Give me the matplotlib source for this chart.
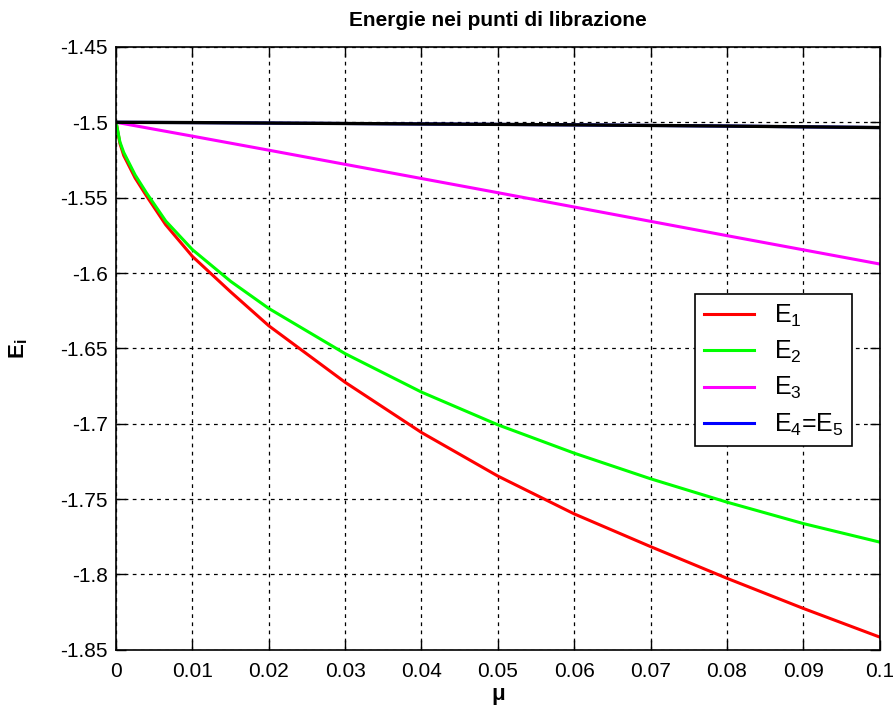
# Energie nei punti di librazione - recreated chart
import matplotlib
matplotlib.use('Agg')
import matplotlib.pyplot as plt
import numpy as np

plt.rcParams['font.family'] = ['Liberation Sans', 'DejaVu Sans']
plt.rcParams['mathtext.default'] = 'regular'

# Data
mu = [0, 0.0005, 0.001, 0.0025, 0.004, 0.0065, 0.01, 0.015, 0.02, 0.03, 0.04,
      0.05, 0.06, 0.07, 0.08, 0.09, 0.1]
e1 = [-1.5, -1.514, -1.522, -1.537, -1.549, -1.568, -1.589, -1.6125, -1.635, -1.6725, -1.7058,
      -1.7347, -1.7598, -1.7815, -1.8025, -1.8225, -1.8415]
e2 = [-1.5, -1.513, -1.520, -1.535, -1.547, -1.5655, -1.5845, -1.6055, -1.6235, -1.6535, -1.679,
      -1.7007, -1.7195, -1.7365, -1.752, -1.7662, -1.7785]

mu_lin = [0, 0.01, 0.02, 0.03, 0.04, 0.05, 0.06, 0.07, 0.08, 0.09, 0.1]
e3 = [-1.5, -1.5092, -1.5185, -1.5279, -1.5373, -1.5467, -1.5562, -1.5657, -1.5752, -1.5846, -1.594]
e45 = [-1.5, -1.5002, -1.5005, -1.5008, -1.5011, -1.5014, -1.5017, -1.5021, -1.5025, -1.503, -1.5035]

labels = ['$E_1$', '$E_2$', '$E_3$', '$E_4$=$E_5$']
xticks = np.arange(0, 0.1001, 0.01)
yticks = np.arange(-1.85, -1.4499, 0.05)


def main():
    fig = plt.figure(figsize=(8.93, 7.11), dpi=100)
    ax = fig.add_axes([0.130, 0.086, 0.855, 0.848])

    ax.plot(mu, e1, color='#ff0000', lw=2.2, label=labels[0])
    ax.plot(mu, e2, color='#00ff00', lw=2.2, label=labels[1])
    ax.plot(mu_lin, e3, color='#ff00ff', lw=2.2, label=labels[2])
    ax.plot(mu_lin, e45, color='#0000ff', lw=2.2, label=labels[3])
    # black curve drawn over the blue one
    ax.plot(mu_lin, e45, color='black', lw=2.4, zorder=3)

    ax.set_xlim(0, 0.1)
    ax.set_ylim(-1.85, -1.45)
    ax.set_xticks(xticks)
    ax.set_xticklabels(['0'] + ['%g' % v for v in xticks[1:]])
    ax.set_yticks(yticks)
    ax.set_yticklabels(['%g' % round(v, 2) for v in yticks])

    ax.grid(True, color='black', linestyle=(0, (3, 3.5)), lw=0.9)
    ax.tick_params(direction='in', length=7, width=1, top=True, right=True,
                   labelsize=15)
    ax.tick_params(axis='x', pad=9)
    ax.tick_params(axis='y', pad=6)
    for s in ax.spines.values():
        s.set_linewidth(1.2)

    ax.set_title('Energie nei punti di librazione', fontsize=15, fontweight='bold', pad=15)
    ax.set_xlabel('μ', fontsize=16, fontweight='bold', labelpad=2)
    ax.set_ylabel('$E_i$', fontsize=16, fontweight='bold', labelpad=22)

    leg = ax.legend(loc='upper left', bbox_to_anchor=(0.758, 0.590), fontsize=18,
                    fancybox=False, edgecolor='black', framealpha=1,
                    handlelength=2.0, borderaxespad=0, labelspacing=0.4,
                    borderpad=0.35)
    leg.get_frame().set_linewidth(1.2)

    fig.savefig('out.png', dpi=100)


if __name__ == '__main__':
    main()
